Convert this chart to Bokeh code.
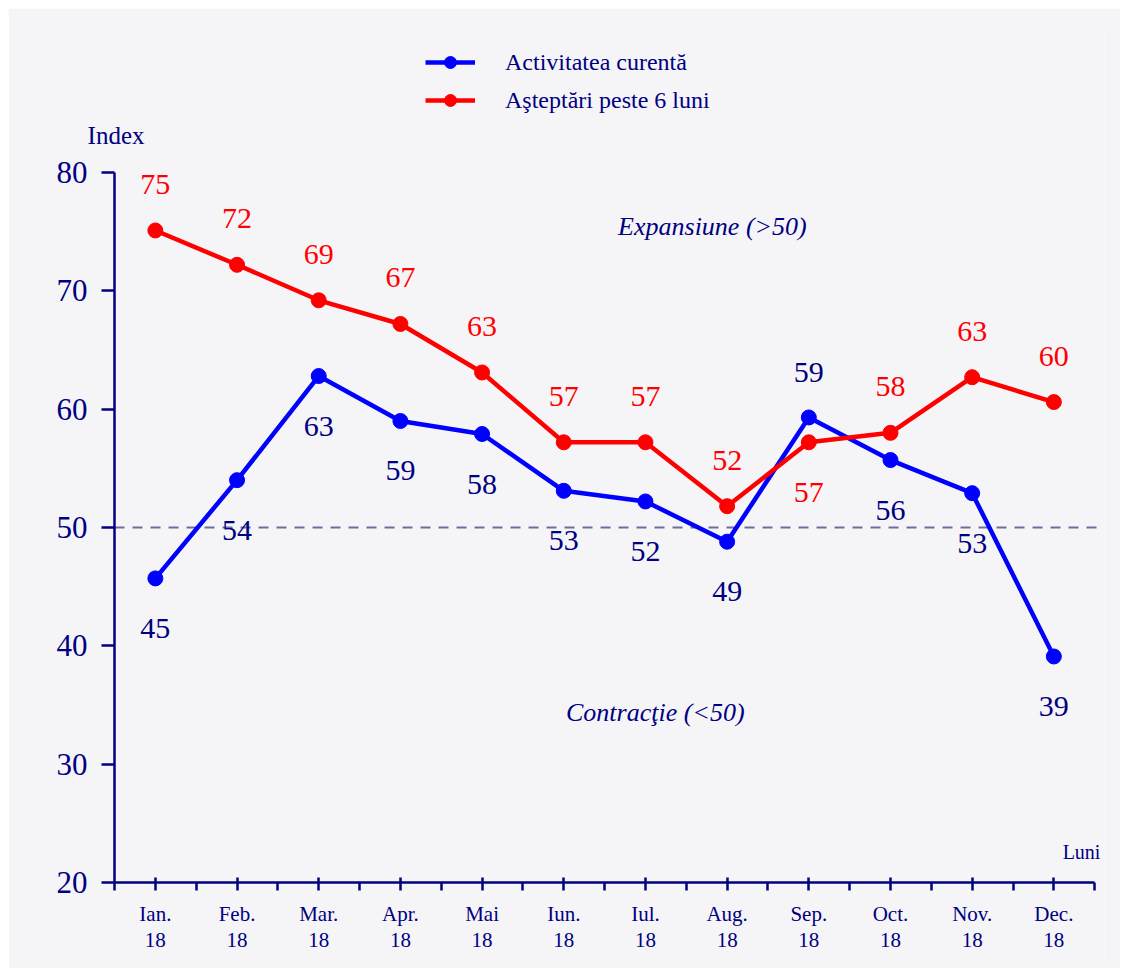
from bokeh.plotting import figure
from bokeh.models import (ColumnDataSource, Range1d, FixedTicker, Label,
                          Legend, LegendItem)
from bokeh.core.properties import value
from bokeh.embed import file_html
from bokeh.resources import INLINE

# ---------------- data ----------------
months = ["Ian.", "Feb.", "Mar.", "Apr.", "Mai", "Iun.", "Iul.", "Aug.",
          "Sep.", "Oct.", "Nov.", "Dec."]
year = "18"
curent = [45.7, 54.0, 62.8, 59.0, 57.9, 53.1, 52.2, 48.8, 59.3, 55.7, 52.9, 39.1]
curent_labels = ["45", "54", "63", "59", "58", "53", "52", "49", "59", "56", "53", "39"]
asteptari = [75.1, 72.2, 69.2, 67.2, 63.1, 57.2, 57.2, 51.8, 57.2, 58.0, 62.7, 60.6]
asteptari_labels = ["75", "72", "69", "67", "63", "57", "57", "52", "57", "58", "63", "60"]
y_ticks = [20, 30, 40, 50, 60, 70, 80]
threshold = 50

FONT = "Liberation Serif"
NAVY = "#000080"
BG = "#f5f5f8"
BLUE = "#0000ff"
RED = "#ff0000"

n = len(months)
xs = [i + 0.5 for i in range(n)]
X_START, X_END = -0.845, n + 0.12
Y_MIN, Y_MAX = y_ticks[0], y_ticks[-1]

p = figure(width=1112, height=960, output_backend="svg", toolbar_location=None,
           x_range=Range1d(X_START, X_END), y_range=Range1d(13.07, 92),
           min_border_left=37, min_border_right=16,
           min_border_top=22, min_border_bottom=4)
p.margin = (8, 0, 0, 8)
p.background_fill_color = BG
p.border_fill_color = BG
p.outline_line_color = None
p.xgrid.visible = False
p.ygrid.visible = False

# ---- axes ----
xa = p.xaxis[0]
xa.fixed_location = Y_MIN
xa.ticker = FixedTicker(ticks=xs, minor_ticks=list(range(n + 1)))
xa.bounds = (0, n)
xa.major_label_overrides = {x: f"{m}\n{year}" for x, m in zip(xs, months)}
xa.axis_line_color = NAVY
xa.axis_line_width = 2.5
xa.major_tick_line_color = NAVY
xa.major_tick_line_width = 2.5
xa.major_tick_in = 5
xa.major_tick_out = 8
xa.minor_tick_line_color = NAVY
xa.minor_tick_line_width = 2.5
xa.minor_tick_in = 0
xa.minor_tick_out = 8
xa.major_label_text_font = FONT
xa.major_label_text_font_size = "21px"
xa.major_label_text_line_height = 1.05
xa.major_label_text_color = NAVY
xa.major_label_standoff = 12

ya = p.yaxis[0]
ya.fixed_location = 0
ya.ticker = FixedTicker(ticks=y_ticks, minor_ticks=[])
ya.bounds = (Y_MIN, Y_MAX)
ya.axis_line_color = NAVY
ya.axis_line_width = 2.5
ya.major_tick_line_color = NAVY
ya.major_tick_line_width = 2.5
ya.major_tick_in = 0
ya.major_tick_out = 13
ya.minor_tick_line_color = None
ya.major_label_text_font = FONT
ya.major_label_text_font_size = "31px"
ya.major_label_text_color = NAVY
ya.major_label_standoff = 14

# ---- threshold line (from the y axis to the right edge) ----
p.segment(x0=[0], y0=[threshold], x1=[X_END], y1=[threshold],
          line_color="#6e6e9e", line_width=2, line_dash="10 8")

# ---- series ----
src = ColumnDataSource(dict(x=xs, c=curent, a=asteptari,
                            cl=curent_labels, al=asteptari_labels,
                            c_off=[-45 if c > a else 50 for c, a in zip(curent, asteptari)],
                            a_off=[50 if a < c else -46 for c, a in zip(curent, asteptari)]))

r_cl = p.line("x", "c", source=src, line_color=BLUE, line_width=4.5)
r_cs = p.scatter("x", "c", source=src, size=15, fill_color=BLUE, line_color=BLUE)
r_al = p.line("x", "a", source=src, line_color=RED, line_width=4.5)
r_as = p.scatter("x", "a", source=src, size=15, fill_color=RED, line_color=RED)

p.text("x", "c", text="cl", source=src, y_offset="c_off",
       text_align="center", text_baseline="middle",
       text_font=value(FONT), text_font_size="30px", text_color=NAVY)
p.text("x", "a", text="al", source=src, y_offset="a_off",
       text_align="center", text_baseline="middle",
       text_font=value(FONT), text_font_size="30px", text_color=RED)

# ---- annotations ----
p.add_layout(Label(x=-0.33, y=83.1, text="Index", text_font=FONT,
                   text_font_size="25px", text_color=NAVY,
                   text_baseline="middle", text_align="left"))
p.add_layout(Label(x=12.07, y=22.6, text="Luni", text_font=FONT,
                   text_font_size="20px", text_color=NAVY,
                   text_baseline="middle", text_align="right"))
p.add_layout(Label(x=7.32, y=75.4, text="Expansiune (>50)", text_font=FONT,
                   text_font_style="italic", text_font_size="26px",
                   text_color=NAVY, text_baseline="middle", text_align="center"))
p.add_layout(Label(x=6.62, y=34.4, text="Contracţie (<50)", text_font=FONT,
                   text_font_style="italic", text_font_size="26px",
                   text_color=NAVY, text_baseline="middle", text_align="center"))

legend = Legend(items=[LegendItem(label="Activitatea curentă", renderers=[r_cl, r_cs]),
                       LegendItem(label="Aşteptări peste 6 luni", renderers=[r_al, r_as])],
                location=(380, 849), orientation="vertical",
                background_fill_alpha=0, border_line_color=None,
                padding=0, margin=0, spacing=8,
                glyph_width=50, glyph_height=30, label_height=30,
                label_standoff=30,
                label_text_font=FONT, label_text_font_size="24px",
                label_text_color=NAVY)
p.add_layout(legend)

open("out.html", "w").write(file_html(p, INLINE))
